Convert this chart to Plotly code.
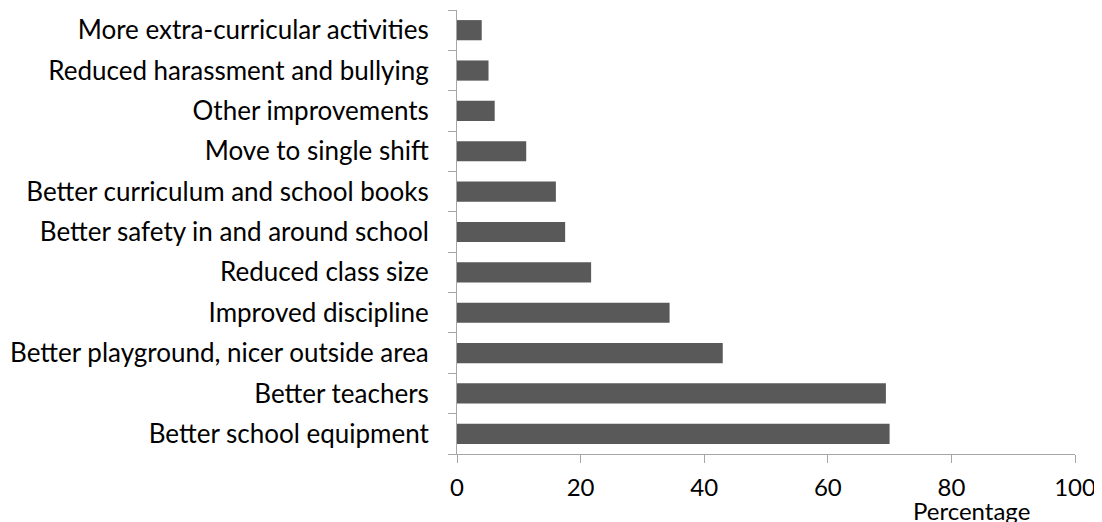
import plotly.graph_objects as go

categories = [
    "Better school equipment",
    "Better teachers",
    "Better playground, nicer outside area",
    "Improved discipline",
    "Reduced class size",
    "Better safety in and around school",
    "Better curriculum and school books",
    "Move to single shift",
    "Other improvements",
    "Reduced harassment and bullying",
    "More extra-curricular activities",
]
values = [70.0, 69.4, 43.0, 34.4, 21.7, 17.5, 16.0, 11.2, 6.1, 5.1, 4.0]
x_ticks = [0, 20, 40, 60, 80, 100]

fig = go.Figure(go.Bar(
    x=values, y=categories, orientation="h",
    marker=dict(color="#595959", line=dict(width=0)),
    hoverinfo="x+y",
))

FONT = "Lato"
# page body has an 8px default margin, so the figure is sized/offset to compensate
fig.update_layout(
    width=1094, height=514,
    margin=dict(l=447, r=27, t=2, b=68),
    paper_bgcolor="white", plot_bgcolor="white",
    bargap=0.5,
    showlegend=False,
    font=dict(family=FONT, size=26, color="black"),
    xaxis=dict(
        range=[0, 100], tickvals=x_ticks, ticks="outside", ticklen=8,
        tickcolor="#a6a6a6", showline=True, linecolor="#a6a6a6", linewidth=1,
        showgrid=False, zeroline=False, tickfont=dict(size=24, family=FONT),
        ticklabelstandoff=4, fixedrange=True,
    ),
    yaxis=dict(
        type="category", categoryorder="array", categoryarray=categories,
        tickson="boundaries", ticks="outside", ticklen=8, tickcolor="#a6a6a6",
        showline=True, linecolor="#a6a6a6", linewidth=1, showgrid=False,
        tickfont=dict(size=26, family=FONT), ticklabelstandoff=22,
        fixedrange=True,
    ),
    annotations=[dict(
        text="Percentage", xref="paper", yref="paper", x=0.832, y=-0.128,
        xanchor="center", yanchor="middle", showarrow=False,
        font=dict(size=24, family=FONT, color="black"),
    )],
)

fig.write_html("out.html")
